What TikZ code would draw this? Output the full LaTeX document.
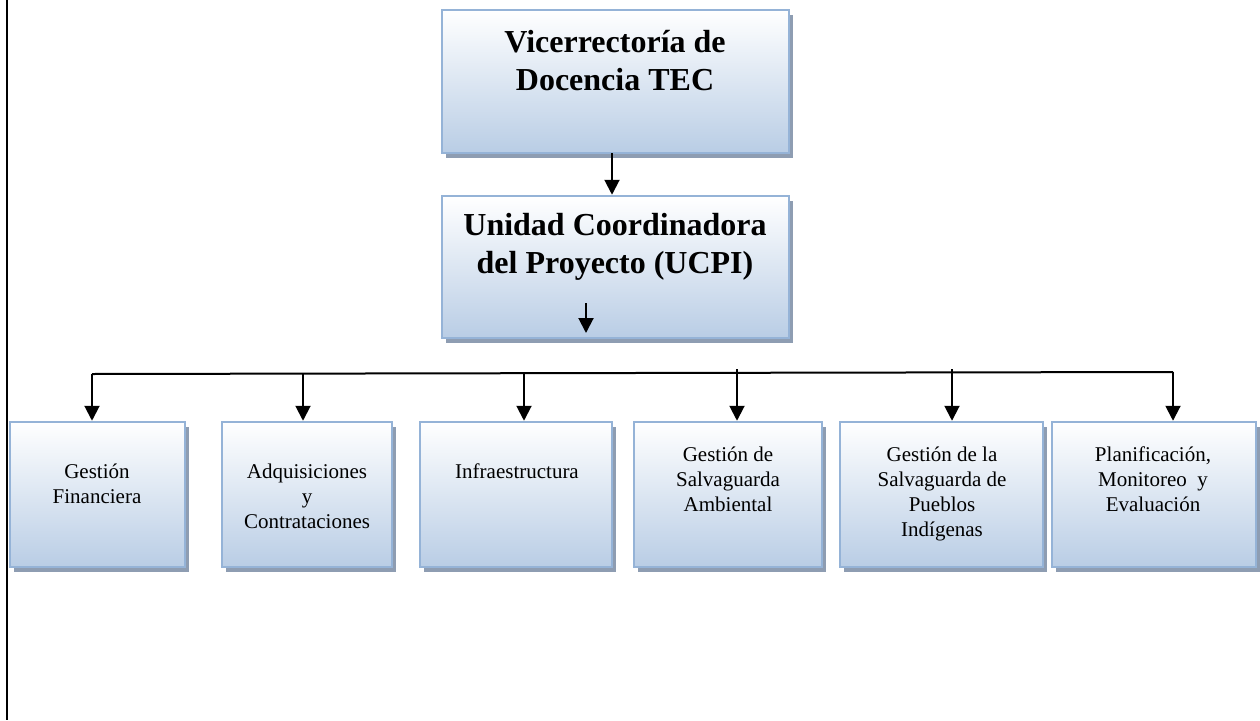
\documentclass[tikz,border=0pt]{standalone}
\usepackage{fontspec}
\setmainfont{Liberation Serif}
\usetikzlibrary{arrows.meta,shadows}
\definecolor{boxborder}{HTML}{95B3D7}
\definecolor{boxblue}{HTML}{B9CDE5}
\definecolor{boxmid}{HTML}{DCE6F2}
\definecolor{shadowc}{HTML}{8E9DB2}
\tikzset{
  boxst/.style={draw=boxborder, line width=2.5pt, top color=white, bottom color=boxblue, middle color=boxmid,
    general shadow={fill=shadowc, shadow xshift=4pt, shadow yshift=-5pt},
    inner sep=0pt, anchor=center},
  bigtxt/.style={font=\fontsize{32}{37.5}\selectfont\bfseries, align=center, anchor=base, inner sep=0pt},
  smalltxt/.style={font=\fontsize{21}{25}\selectfont, align=center, anchor=base, inner sep=0pt},
  arr/.style={line width=2pt, -{Triangle[width=15pt,length=15pt]}},
  conn/.style={line width=2pt}
}
\begin{document}
\begin{tikzpicture}[x=1pt,y=-1pt]
\useasboundingbox (0,0) rectangle (1260,720);
\draw[line width=2pt] (7,0) -- (7,720);

% top boxes
\node[boxst, minimum width=347pt, minimum height=143pt] (vic) at (615.5,81.5) {};
\node[boxst, minimum width=347pt, minimum height=142pt] (ucp) at (615.5,267) {};
\node[bigtxt] (vict) at (615,90) {Vicerrectoría de\\Docencia TEC};
\node[bigtxt] (ucpt) at (615,273) {Unidad Coordinadora\\del Proyecto (UCPI)};

% bottom boxes
\node[boxst, minimum width=175pt, minimum height=145pt] (b1) at (97.5,494.5) {};
\node[boxst, minimum width=170pt, minimum height=145pt] (b2) at (307,494.5) {};
\node[boxst, minimum width=192pt, minimum height=145pt] (b3) at (516,494.5) {};
\node[boxst, minimum width=188pt, minimum height=145pt] (b4) at (728,494.5) {};
\node[boxst, minimum width=203pt, minimum height=145pt] (b5) at (941.5,494.5) {};
\node[boxst, minimum width=204pt, minimum height=145pt] (b6) at (1154,494.5) {};

\node[smalltxt] (t1) at (97,503) {Gestión\\Financiera};
\node[smalltxt] (t2) at (307,528) {Adquisiciones\\y\\Contrataciones};
\node[smalltxt] (t3) at (517,478) {Infraestructura};
\node[smalltxt] (t4) at (728,511) {Gestión de\\Salvaguarda\\Ambiental};
\node[smalltxt] (t5) at (942,536) {Gestión de la\\Salvaguarda de\\Pueblos\\Indígenas};
\node[smalltxt] (t6) at (1153,511) {Planificación,\\Monitoreo~ y\\Evaluación};

% connectors
\coordinate (a1) at (612,153);
\draw[arr] (a1) -- (a1 |- ucp.north);
\coordinate (s1) at (586,303);
\coordinate (s2) at (586,333);
\draw[arr] (s1) -- (s2);

\coordinate (hl) at (92,374);
\coordinate (hr) at (1173,372);
\draw[conn] (hl) -- (hr);
\coordinate (j1) at (92,374);
\coordinate (j2) at (303,373);
\coordinate (j3) at (524,373);
\coordinate (j4) at (737,369);
\coordinate (j5) at (952,369);
\coordinate (j6) at (1173,372);
\draw[arr] (j1) -- (j1 |- b1.north);
\draw[arr] (j2) -- (j2 |- b2.north);
\draw[arr] (j3) -- (j3 |- b3.north);
\draw[arr] (j4) -- (j4 |- b4.north);
\draw[arr] (j5) -- (j5 |- b5.north);
\draw[arr] (j6) -- (j6 |- b6.north);
\end{tikzpicture}
\end{document}
